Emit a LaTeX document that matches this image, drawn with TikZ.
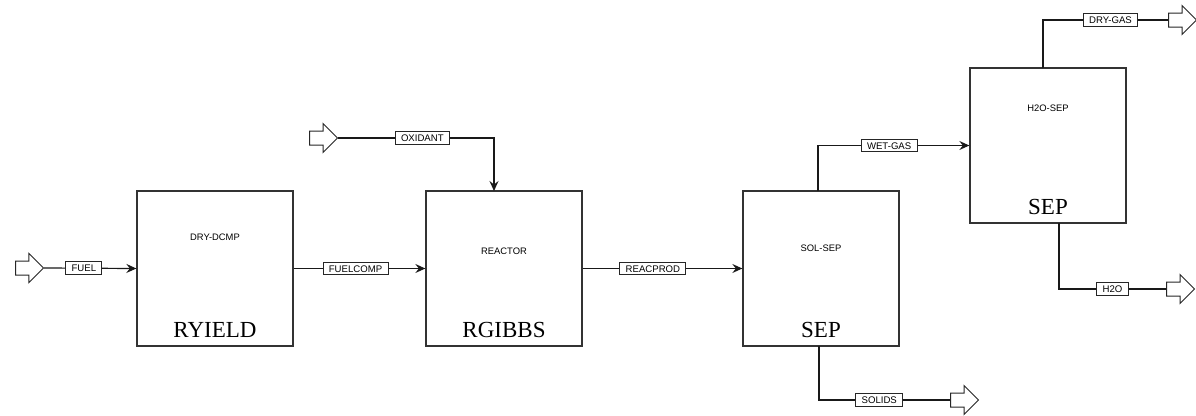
\documentclass[tikz,border=0pt]{standalone}
\usepackage{fontspec}
\setmainfont{Liberation Serif}
\newfontfamily\labfont{Liberation Sans}
\usetikzlibrary{arrows.meta,shapes.arrows}
\begin{document}
\begin{tikzpicture}[x=1pt,y=-1pt,
  block/.style={draw=black!80, line width=1.3pt, minimum width=156pt, minimum height=155pt, inner sep=0pt},
  tag/.style={draw=black!85, line width=1pt, fill=white, font=\labfont\fontsize{9.6}{10}\selectfont, inner xsep=5.8pt, inner ysep=0pt, minimum height=12.5pt, text height=7pt, text depth=0pt},
  inlabel/.style={font=\labfont\fontsize{9.4}{10}\selectfont},
  biglabel/.style={font=\fontsize{23}{25}\selectfont},
  feed/.style={single arrow, draw=black!85, line width=1pt, fill=white, inner sep=6.5pt, single arrow head extend=7.5pt, minimum height=28pt},
  stream/.style={line width=1.2pt, draw=black!90},
  tip/.style={-{Stealth[length=10pt,width=9pt,inset=3.5pt]}}
]
\useasboundingbox (0,0) rectangle (1196,415);

% blocks
\node[block] (ryield) at (215,268.5) {};
\node[block] (rgibbs) at (504,268.5) {};
\node[block] (solsep) at (821,268.5) {};
\node[block] (h2osep) at (1048,145.5) {};

\node[inlabel] (l1) at (215,237) {DRY-DCMP};
\node[biglabel] (b1) at (215,330) {RYIELD};
\node[inlabel] (l2) at (504,251) {REACTOR};
\node[biglabel] (b2) at (504,330) {RGIBBS};
\node[inlabel] (l3) at (821,248) {SOL-SEP};
\node[biglabel] (b3) at (821,330) {SEP};
\node[inlabel] (l4) at (1048,108) {H2O-SEP};
\node[biglabel] (b4) at (1048,207) {SEP};

% feed / product hollow arrows
\node[feed] (fuelin) at (26,268) {};
\node[feed] (oxin) at (320,138) {};
\node[feed] (dryout) at (1179,20) {};
\node[feed] (h2oout) at (1177,289) {};
\node[feed] (solout) at (961,400) {};

% port coordinates
\coordinate (oxport) at (494,191);
\coordinate (wgport) at (818,191);
\coordinate (sdport) at (819,346);
\coordinate (dgport) at (1043,68);
\coordinate (hwport) at (1059,223);

% streams
\draw[stream,tip] (fuelin.east) -- (ryield.west) node[tag,pos=0.43] {FUEL};
\draw[stream,tip] (ryield.east) -- (rgibbs.west) node[tag,pos=0.47] {FUELCOMP};
\draw[stream,tip] (rgibbs.east) -- (solsep.west) node[tag,pos=0.44] {REACPROD};
\draw[stream,tip] (oxin.east) -| (oxport) node[tag,pos=0.27] {OXIDANT};
\draw[stream,tip] (wgport) |- (h2osep.west) node[tag,pos=0.735] {WET-GAS};
\draw[stream] (dgport) |- (dryout.west) node[tag,pos=0.77] {DRY-GAS};
\draw[stream] (hwport) |- (h2oout.west) node[tag,pos=0.75] {H2O};
\draw[stream] (sdport) |- (solout.west) node[tag,pos=0.73] {SOLIDS};
\end{tikzpicture}
\end{document}
